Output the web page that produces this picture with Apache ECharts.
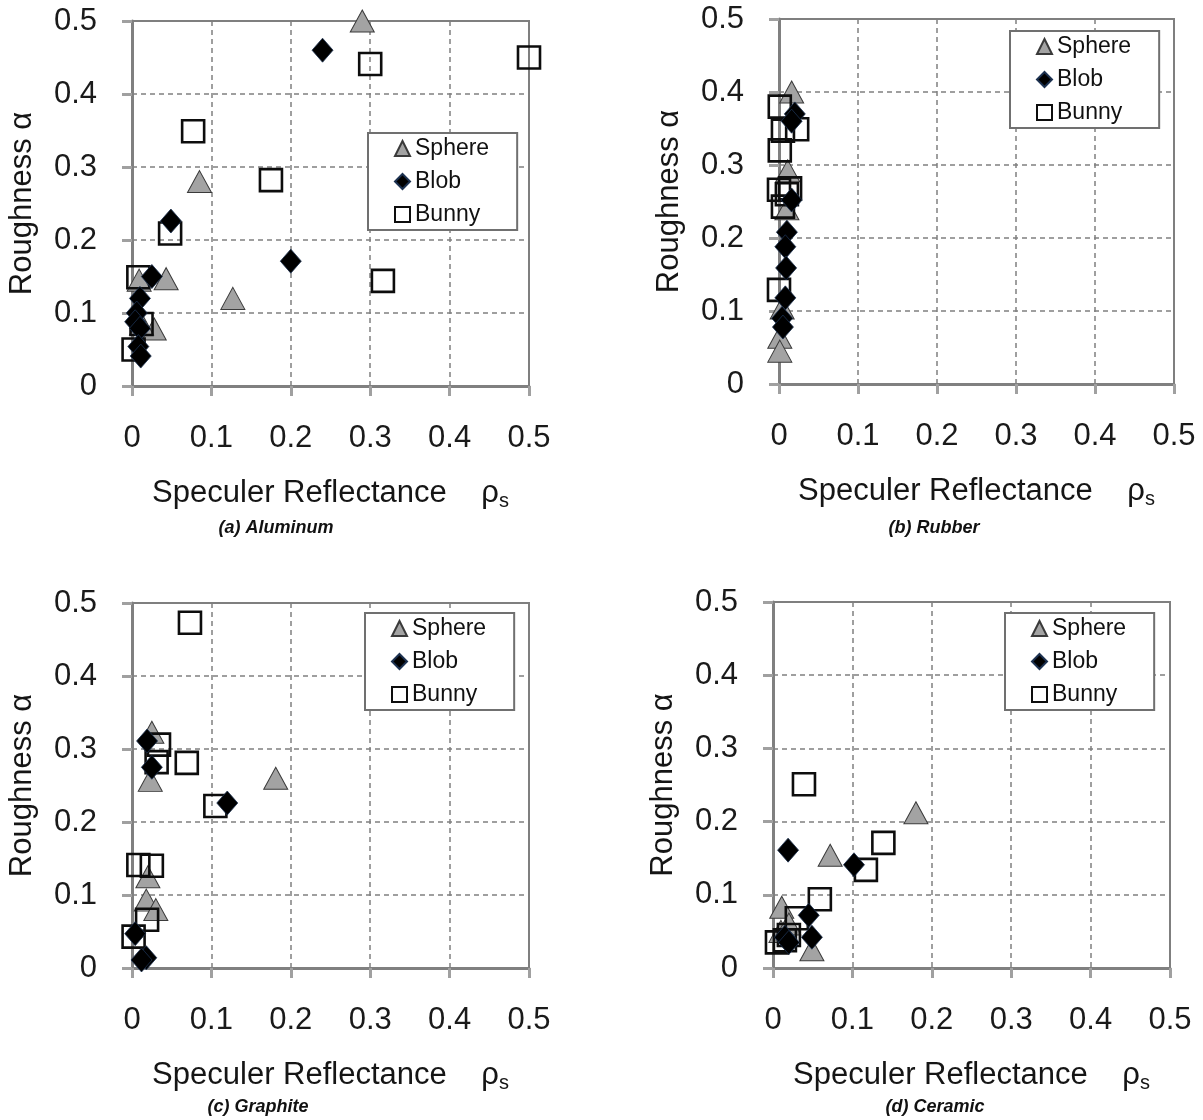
<!DOCTYPE html>
<html>
<head>
<meta charset="utf-8">
<title>Roughness vs specular reflectance</title>
<script src="https://cdn.jsdelivr.net/npm/echarts@6/dist/echarts.min.js"></script>
<style>
html, body { margin: 0; padding: 0; background: #fff; }
#main { width: 1203px; height: 1120px; }
</style>
</head>
<body>
<div id="main"></div>
<script>
var seriesNames = ['Sphere', 'Blob', 'Bunny'];
var panelCaptions = ['(a) Aluminum', '(b) Rubber', '(c) Graphite', '(d) Ceramic'];
var axisMin = 0, axisMax = 0.5, axisStep = 0.1;

// (a) Aluminum  [specular reflectance, roughness]
var aluSphere = [[0.29, 0.50], [0.085, 0.28], [0.043, 0.147], [0.127, 0.12], [0.009, 0.145], [0.028, 0.078], [0.012, 0.085]];
var aluBlob = [[0.24, 0.46], [0.049, 0.226], [0.2, 0.171], [0.025, 0.15], [0.01, 0.12], [0.006, 0.1], [0.004, 0.088], [0.01, 0.079], [0.008, 0.054], [0.011, 0.041]];
var aluBunny = [[0.5, 0.45], [0.3, 0.441], [0.077, 0.349], [0.175, 0.282], [0.048, 0.209], [0.316, 0.144], [0.008, 0.149], [0.002, 0.05], [0.012, 0.085]];

// (b) Rubber
var rubSphere = [[0.016, 0.4], [0.011, 0.292], [0.01, 0.24], [0.004, 0.104], [0.001, 0.064], [0.001, 0.045]];
var rubBlob = [[0.02, 0.37], [0.016, 0.36], [0.016, 0.252], [0.01, 0.208], [0.008, 0.188], [0.009, 0.159], [0.008, 0.118], [0.004, 0.09], [0.005, 0.078]];
var rubBunny = [[0.001, 0.38], [0.005, 0.347], [0.023, 0.349], [0.001, 0.32], [0.0, 0.266], [0.014, 0.268], [0.005, 0.243], [0.01, 0.26], [0.0, 0.129]];

// (c) Graphite
var graSphere = [[0.025, 0.323], [0.023, 0.257], [0.181, 0.26], [0.02, 0.125], [0.018, 0.093], [0.03, 0.08]];
var graBlob = [[0.019, 0.311], [0.025, 0.275], [0.12, 0.226], [0.004, 0.047], [0.018, 0.014], [0.012, 0.011]];
var graBunny = [[0.073, 0.473], [0.034, 0.306], [0.031, 0.282], [0.069, 0.281], [0.105, 0.222], [0.008, 0.141], [0.025, 0.14], [0.019, 0.066], [0.002, 0.043]];

// (d) Ceramic
var cerSphere = [[0.18, 0.212], [0.072, 0.154], [0.011, 0.083], [0.049, 0.025], [0.01, 0.05], [0.02, 0.06]];
var cerBlob = [[0.019, 0.161], [0.102, 0.141], [0.045, 0.072], [0.049, 0.042], [0.015, 0.042], [0.02, 0.035]];
var cerBunny = [[0.039, 0.251], [0.139, 0.171], [0.117, 0.134], [0.059, 0.094], [0.03, 0.068], [0.005, 0.035], [0.015, 0.038], [0.02, 0.045]];

var panelData = [
  [aluSphere, aluBlob, aluBunny],
  [rubSphere, rubBlob, rubBunny],
  [graSphere, graBlob, graBunny],
  [cerSphere, cerBlob, cerBunny]
];

// plot-area boxes and legend/caption anchors, in pixels
var layout = [
  { left: 132, top: 21,  width: 397, height: 365, legendLeft: 368,  legendTop: 133, capX: 276, capY: 528 },
  { left: 779, top: 19,  width: 395, height: 365, legendLeft: 1010, legendTop: 31,  capX: 934, capY: 528 },
  { left: 132, top: 603, width: 397, height: 365, legendLeft: 365,  legendTop: 613, capX: 258, capY: 1107 },
  { left: 773, top: 602, width: 397, height: 366, legendLeft: 1005, legendTop: 613, capX: 935, capY: 1107 }
];

var FONT = '"Liberation Sans", Arial, sans-serif';
var chart = echarts.init(document.getElementById('main'));

var grids = [], xAxes = [], yAxes = [], legends = [], series = [], graphics = [];

var markerStyle = {
  Sphere: { symbol: 'triangle', symbolSize: [24, 22], z: 2,
            itemStyle: { color: '#a3a3a3', borderColor: '#3a3a3a', borderWidth: 1, opacity: 1 } },
  Blob:   { symbol: 'diamond', symbolSize: [21, 24], z: 4,
            itemStyle: { color: '#000', borderColor: '#1c3150', borderWidth: 0.8, opacity: 1 } },
  Bunny:  { symbol: 'rect', symbolSize: 22, z: 3,
            itemStyle: { color: 'rgba(255,255,255,0)', borderColor: '#0d0d0d', borderWidth: 2.6, opacity: 1 } }
};

layout.forEach(function (p, i) {
  grids.push({
    left: p.left, top: p.top, width: p.width, height: p.height,
    show: true, borderColor: '#7f7f7f', borderWidth: 2, backgroundColor: '#fff'
  });
  xAxes.push({
    gridIndex: i, type: 'value', min: axisMin, max: axisMax, interval: axisStep,
    name: 'Speculer Reflectance    {rho|ρ}{sub|s}',
    nameLocation: 'middle', nameGap: 89,
    nameTextStyle: {
      fontFamily: FONT, fontSize: 31, color: '#151515', lineHeight: 36,
      rich: {
        rho: { fontFamily: FONT, fontSize: 31, color: '#151515', lineHeight: 36 },
        sub: { fontFamily: FONT, fontSize: 20, color: '#151515', verticalAlign: 'bottom', lineHeight: 18 }
      }
    },
    axisLine: { show: true, onZero: false, lineStyle: { color: '#808080', width: 3 } },
    axisTick: { show: true, length: 10, lineStyle: { color: '#a0a0a0', width: 3 } },
    axisLabel: { margin: 37, fontFamily: FONT, fontSize: 31, color: '#1a1a1a' },
    splitLine: { show: true, lineStyle: { color: '#808080', width: 1.5, type: [5, 4] } }
  });
  yAxes.push({
    gridIndex: i, type: 'value', min: axisMin, max: axisMax, interval: axisStep,
    name: 'Roughness α', nameLocation: 'middle', nameGap: 94, nameRotate: 90,
    nameTextStyle: { fontFamily: FONT, fontSize: 31, color: '#151515' },
    axisLine: { show: true, onZero: false, lineStyle: { color: '#808080', width: 3 } },
    axisTick: { show: true, length: 10, lineStyle: { color: '#a0a0a0', width: 3 } },
    axisLabel: { margin: 35, fontFamily: FONT, fontSize: 31, color: '#1a1a1a' },
    splitLine: { show: true, lineStyle: { color: '#808080', width: 1.5, type: [5, 4] } }
  });
  legends.push({
    left: p.legendLeft, top: p.legendTop, orient: 'vertical',
    backgroundColor: '#fff', borderColor: '#707070', borderWidth: 2,
    padding: [4, 28, 4, 26], itemGap: 10, itemWidth: 15, itemHeight: 15,
    textStyle: { fontFamily: FONT, fontSize: 23, color: '#111', lineHeight: 22 },
    data: [
      { name: 'Sphere', icon: 'triangle' },
      { name: 'Blob', icon: 'diamond' },
      { name: 'Bunny', icon: 'rect' }
    ]
  });
  // drawing order: triangles under squares under diamonds
  [0, 2, 1].forEach(function (k) {
    var name = seriesNames[k];
    var m = markerStyle[name];
    series.push({
      name: name, type: 'scatter', xAxisIndex: i, yAxisIndex: i,
      symbol: m.symbol, symbolSize: m.symbolSize, z: m.z,
      itemStyle: m.itemStyle,
      emphasis: { disabled: true },
      data: panelData[i][k]
    });
  });
  graphics.push({
    type: 'text', x: p.capX, y: p.capY,
    style: {
      text: panelCaptions[i], align: 'center', verticalAlign: 'middle',
      font: 'italic bold 18px ' + FONT, fill: '#111'
    }
  });
});

chart.setOption({
  animation: false,
  backgroundColor: '#fff',
  grid: grids,
  xAxis: xAxes,
  yAxis: yAxes,
  legend: legends,
  series: series,
  graphic: graphics
});
</script>
</body>
</html>
